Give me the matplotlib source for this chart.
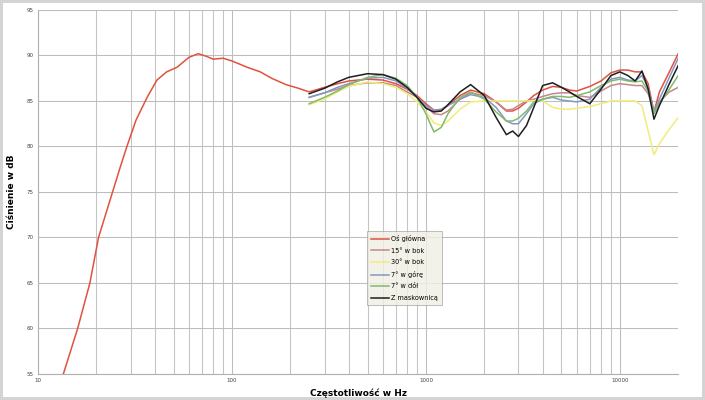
import matplotlib
matplotlib.use('Agg')
import matplotlib.pyplot as plt
from matplotlib.ticker import LogLocator, FixedLocator, NullFormatter

# ====== DATA ======

# Main axis, full range (Hz, dB)
red_freq = [13.5, 16, 18.5, 20.5, 23.5, 26.5, 28.5, 32, 36.5, 41, 46, 52, 60, 67, 74, 80, 90,
            100, 120, 140, 160, 190, 220,
            250, 300, 350, 400, 500, 600, 700, 800, 900, 1000, 1100, 1200, 1300, 1500, 1700,
            2000, 2300, 2600, 2800, 3000, 3300, 3600, 4000, 4500, 5000, 5500, 6000, 7000, 8000,
            9000, 10000, 11000, 12000, 13000, 14000, 15000, 16000, 18000, 20000]
red_db = [55.0, 60.0, 65.0, 70.0, 74.1, 77.7, 79.8, 82.9, 85.4, 87.3, 88.2, 88.7, 89.8, 90.2, 89.9, 89.6, 89.7,
          89.4, 88.7, 88.2, 87.5, 86.8, 86.4,
          86.0, 86.5, 86.9, 87.2, 87.4, 87.3, 86.9, 86.3, 85.6, 84.7, 84.0, 84.0, 84.5, 85.6, 86.2,
          85.8, 84.9, 83.9, 83.9, 84.2, 84.9, 85.6, 86.2, 86.6, 86.5, 86.2, 86.1, 86.6, 87.2,
          88.1, 88.4, 88.4, 88.2, 88.2, 86.9, 83.8, 86.0, 88.2, 90.2]

# Shared frequency grid for the off-axis measurements
freq = [250, 300, 350, 400, 500, 600, 700, 800, 900, 1000, 1100, 1200, 1300, 1500, 1700,
        2000, 2300, 2600, 2800, 3000, 3300, 3600, 4000, 4500, 5000, 5500, 6000, 7000, 8000,
        9000, 10000, 11000, 12000, 13000, 14000, 15000, 16000, 18000, 20000]

side15_db = [85.4, 85.9, 86.3, 86.7, 87.0, 87.0, 86.7, 86.0, 85.4, 84.4, 83.6, 83.5, 83.9, 85.2, 85.9,
             85.6, 84.9, 84.0, 84.1, 84.5, 85.0, 85.2, 85.5, 85.8, 85.9, 85.9, 85.6, 85.4, 86.1,
             86.7, 86.9, 86.8, 86.7, 86.7, 85.8, 83.9, 84.9, 86.0, 86.5]
side30_db = [84.6, 85.2, 86.0, 86.6, 87.1, 86.9, 86.5, 85.8, 84.9, 83.8, 82.6, 82.3, 82.8, 84.1, 84.9,
             85.0, 85.0, 85.0, 85.0, 85.0, 85.0, 85.0, 85.0, 84.3, 84.1, 84.1, 84.2, 84.4, 84.7,
             85.0, 85.0, 85.0, 85.0, 84.5, 81.7, 79.1, 80.3, 81.9, 83.2]
up7_db = [85.4, 85.9, 86.5, 86.9, 87.5, 87.6, 87.2, 86.4, 85.4, 84.5, 84.0, 84.1, 84.5, 85.2, 85.7,
          85.4, 84.3, 82.8, 82.5, 82.5, 83.6, 84.7, 85.2, 85.4, 85.1, 85.0, 84.9, 85.2, 86.5,
          87.4, 87.6, 87.3, 87.2, 87.8, 86.5, 83.8, 85.2, 87.6, 89.7]
down7_db = [84.7, 85.4, 86.1, 86.8, 87.6, 87.9, 87.5, 86.7, 85.4, 83.6, 81.6, 82.1, 83.6, 85.4, 86.0,
            85.2, 83.8, 82.8, 82.8, 83.1, 83.9, 84.9, 85.2, 85.5, 85.5, 85.4, 85.6, 86.0, 86.7,
            87.2, 87.4, 87.2, 87.1, 87.2, 86.1, 83.6, 84.7, 86.3, 87.8]
grille_db = [85.8, 86.4, 87.1, 87.6, 88.0, 87.9, 87.4, 86.5, 85.4, 84.2, 83.8, 83.9, 84.6, 86.0, 86.8,
             85.6, 83.2, 81.3, 81.7, 81.1, 82.3, 84.3, 86.7, 87.0, 86.5, 86.0, 85.5, 84.7, 86.3,
             87.8, 88.2, 87.8, 87.2, 88.3, 86.3, 83.0, 84.5, 86.9, 88.9]

labels = ['Oś główna', '15° w bok', '30° w bok', '7° w górę', '7° w dół', 'Z maskownicą']
colors = ['#e0523e', '#c4878a', '#f2ec78', '#8596c4', '#80bb6c', '#1e1e1e']

y_ticks = [55, 60, 65, 70, 75, 80, 85, 90, 95]
x_ticks = [10, 100, 1000, 10000]


# ====== PLOT ======

fig = plt.figure(figsize=(7.05, 4.0), dpi=100)
fig.patch.set_edgecolor('#d4d4d4')
fig.patch.set_linewidth(3)
ax = fig.add_axes([0.054, 0.065, 0.908, 0.91])

ax.plot(red_freq, red_db, color=colors[0], lw=1.1, label=labels[0], zorder=3)
series = [side15_db, side30_db, up7_db, down7_db, grille_db]
for i, s in enumerate(series):
    ax.plot(freq, s, color=colors[i+1], lw=1.1, label=labels[i+1], zorder=3)

ax.set_xscale('log')
ax.set_xlim(10, 20000)
ax.set_ylim(55, 95)
ax.xaxis.set_major_locator(FixedLocator(x_ticks))
ax.xaxis.set_minor_locator(LogLocator(base=10, subs=range(2, 10), numticks=20))
ax.xaxis.set_minor_formatter(NullFormatter())
ax.set_xticklabels([str(t) for t in x_ticks])
ax.set_yticks(y_ticks)

ax.grid(True, which='major', color='#bdbdbd', lw=0.75)
ax.grid(True, which='minor', axis='x', color='#c4c4c4', lw=0.75)
ax.tick_params(which='both', length=0, labelsize=4, labelcolor='#444444', pad=3)

for side in ['top', 'right']:
    ax.spines[side].set_visible(False)
ax.spines['left'].set_color('#b0b0b0')
ax.spines['bottom'].set_color('#b0b0b0')

ax.set_xlabel('Częstotliwość w Hz', fontsize=6.5, fontweight='bold', labelpad=4)
ax.set_ylabel('Ciśnienie w dB', fontsize=6.5, fontweight='bold', labelpad=8)

leg = ax.legend(loc='lower left', bbox_to_anchor=(0.514, 0.19), fontsize=4.7, frameon=True,
                fancybox=False, handlelength=2.8, handletextpad=0.3, labelspacing=0.85,
                borderpad=0.6, borderaxespad=0)
leg.get_frame().set_facecolor('#f1efe4')
leg.get_frame().set_edgecolor('#a0a0a0')
leg.get_frame().set_linewidth(0.6)

plt.savefig('out.png', dpi=100, edgecolor=fig.get_edgecolor())
plt.close()
